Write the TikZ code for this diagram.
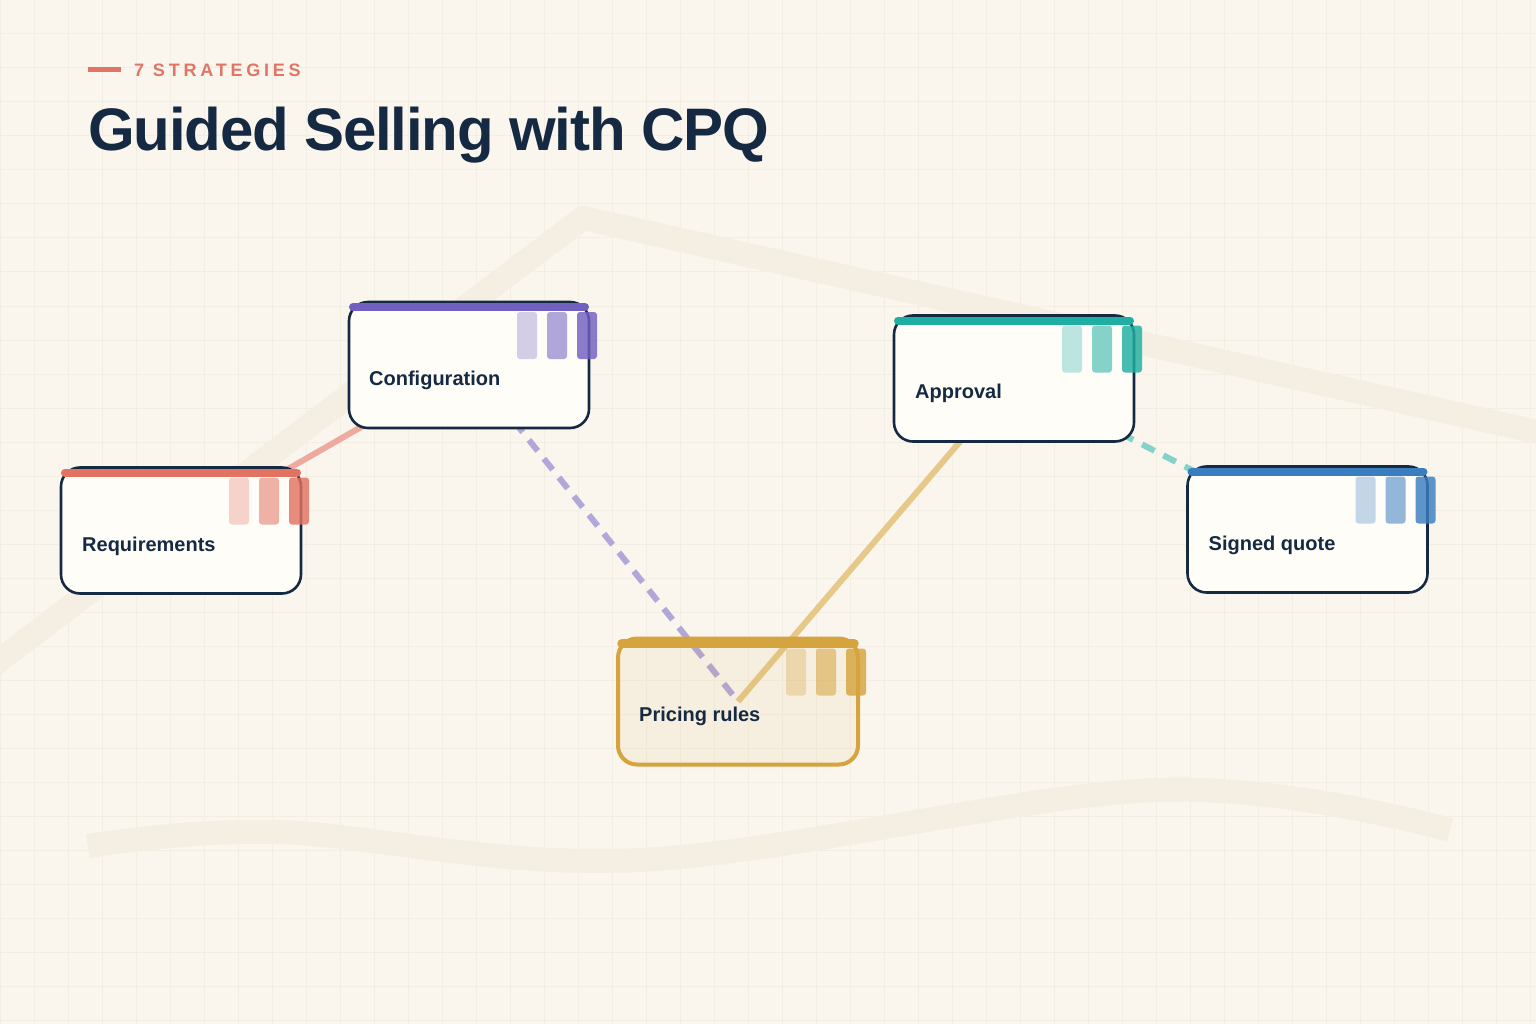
\documentclass[tikz,border=0pt]{standalone}
\usepackage{fontspec}
\setmainfont{Liberation Sans}
\newfontfamily\kickerfont[LetterSpace=21]{Liberation Sans}
\newfontfamily\titlefont[LetterSpace=-2]{Liberation Sans}
\definecolor{bgc}{HTML}{FAF6EE}
\definecolor{gridc}{HTML}{F3EEE4}
\definecolor{bandc}{HTML}{F5EFE3}
\definecolor{navy}{HTML}{152A42}
\definecolor{card}{HTML}{FFFDF8}
\definecolor{kick}{HTML}{E07565}
\definecolor{cred}{HTML}{E27262}
\definecolor{cpurple}{HTML}{7160C0}
\definecolor{cteal}{HTML}{1FAFA2}
\definecolor{cblue}{HTML}{3A7EC0}
\definecolor{cgold}{HTML}{D6A43E}
\pgfdeclarelayer{back}
\pgfdeclarelayer{edges}
\pgfsetlayers{back,edges,main}
\tikzset{
  stagebox/.style={draw=navy, line width=2.6pt, rounded corners=19pt, fill=card,
    minimum width=240pt, minimum height=126pt, inner sep=0pt, outer sep=0pt},
  stagelabel/.style={anchor=base west, font=\bfseries\fontsize{20}{24}\selectfont,
    text=navy, inner sep=0pt},
  topbar/.style={line width=8pt, line cap=round},
  chip/.style={rounded corners=3pt},
  link/.style={line width=6pt},
  dashlink/.style={line width=6pt, dash pattern=on 14pt off 10pt},
  gridline/.style={draw=gridc, line width=1pt},
  band/.style={draw=bandc, line width=24pt, line join=round},
}
\newcommand\stagedeco[3]{%
  \draw[topbar, draw=#2, line width=#3] ([xshift=4pt,yshift=-5pt]#1.north west) -- ([xshift=-4pt,yshift=-5pt]#1.north east);
  \fill[chip, fill=#2, fill opacity=0.3] ([xshift=-72pt,yshift=-10pt]#1.north east) rectangle ++(20,47);
  \fill[chip, fill=#2, fill opacity=0.55] ([xshift=-42pt,yshift=-10pt]#1.north east) rectangle ++(20,47);
  \fill[chip, fill=#2, fill opacity=0.82] ([xshift=-12pt,yshift=-10pt]#1.north east) rectangle ++(20,47);
}
\begin{document}
\begin{tikzpicture}[x=1pt,y=-1pt]
\useasboundingbox (0,0) rectangle (1536,1024);
\begin{pgfonlayer}{back}
  \fill[bgc] (0,0) rectangle (1536,1024);
  \foreach \x in {0,34,...,1536} \draw[gridline] (\x,0) -- (\x,1024);
  \foreach \y in {0,34,...,1024} \draw[gridline] (0,\y) -- (1536,\y);
  \draw[band] (-20,675) -- (583,218) -- (1560,437);
  \draw[band, line cap=butt] plot[smooth, tension=0.6] coordinates {(88,846) (277,832) (640,860) (1156,790) (1450,830)};
\end{pgfonlayer}

% title
\draw[kick, line width=4.5pt] (88,69.5) -- (121,69.5);
\node[anchor=base west, inner sep=0pt, text=kick, font=\kickerfont\bfseries\fontsize{18}{22}\selectfont] (kicker) at (134,77) {7 STRATEGIES};
\node[anchor=base west, inner sep=0pt, text=navy, font=\titlefont\bfseries\fontsize{60}{70}\selectfont] (title) at (88,151) {Guided Selling with CPQ};

% cards
\node[stagebox] (req) at (181,530.5) {};
\node[stagebox] (cfg) at (469,365) {};
\node[stagebox] (app) at (1014,378.5) {};
\node[stagebox] (sig) at (1307.5,529.5) {};
\node[stagebox, draw=cgold, line width=4pt, fill=cgold, fill opacity=0.09] (pri) at (738,701.5) {};

\stagedeco{req}{cred}{8pt}
\stagedeco{cfg}{cpurple}{8pt}
\stagedeco{app}{cteal}{8pt}
\stagedeco{sig}{cblue}{8pt}
\stagedeco{pri}{cgold}{9.5pt}

\node[stagelabel] (req-t) at ([xshift=21pt,yshift=-21pt]req.west) {Requirements};
\node[stagelabel] (cfg-t) at ([xshift=20pt,yshift=-20pt]cfg.west) {Configuration};
\node[stagelabel] (app-t) at ([xshift=21pt,yshift=-20pt]app.west) {Approval};
\node[stagelabel] (sig-t) at ([xshift=21pt,yshift=-21pt]sig.west) {Signed quote};
\node[stagelabel] (pri-t) at ([xshift=21pt,yshift=-20pt]pri.west) {Pricing rules};

% connectors
\begin{pgfonlayer}{edges}
  \draw[link, draw=cred!60!card] (req.center) -- (cfg.center);
  \draw[dashlink, draw=cpurple!55!card] (cfg.center) -- (pri.center);
  \draw[link, draw=cgold!60!card] (pri.center) -- (app.center);
  \draw[dashlink, draw=cteal!55!card] (app.center) -- (sig.center);
\end{pgfonlayer}
\end{tikzpicture}
\end{document}
